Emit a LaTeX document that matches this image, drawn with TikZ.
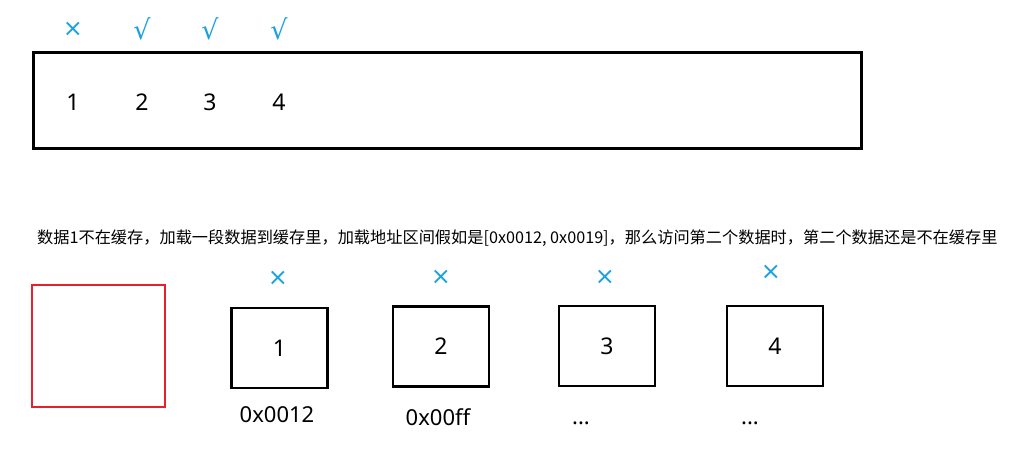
\documentclass[tikz,border=0pt]{standalone}
\usepackage{fontspec}
\setmainfont{Noto Sans}
\newfontfamily\cjk{Noto Sans CJK SC}
\newfontfamily\dejavu{DejaVu Sans}
\definecolor{markblue}{RGB}{27,161,226}
\definecolor{boxred}{RGB}{232,32,42}
\begin{document}
\begin{tikzpicture}[x=1pt,y=-1pt,
  tick/.style={text=markblue,font=\dejavu\fontsize{27}{27}\selectfont,inner sep=0pt},
  cross/.style={text=markblue,font=\dejavu\fontsize{24}{24}\selectfont,inner sep=0pt},
  digit/.style={font=\fontsize{23}{23}\selectfont,inner sep=0pt},
  addr/.style={font=\fontsize{22}{22}\selectfont,inner sep=0pt},
  cell/.style={draw,line width=2.5pt,minimum width=96pt,minimum height=80pt,inner sep=0pt,font=\fontsize{23}{23}\selectfont}]
\useasboundingbox (0,0) rectangle (1017,452);
% top bar
\node[draw,line width=3pt,minimum width=828pt,minimum height=95pt,inner sep=0pt] (bar) at (447,100.5) {};
\node[digit] (t1) at (73,102) {1};
\node[digit] (t2) at (142,102) {2};
\node[digit] (t3) at (210,102) {3};
\node[digit] (t4) at (279,102) {4};
\node[cross] (m1) at (73,29) {×};
\node[tick] (m2) at (142,29) {√};
\node[tick] (m3) at (210,29) {√};
\node[tick] (m4) at (279,29) {√};
% caption
\node[anchor=west,inner sep=0pt,font=\cjk\fontsize{16.2}{16.2}\selectfont] (cap) at (37,238) {数据1不在缓存，加载一段数据到缓存里，加载地址区间假如是[0x0012, 0x0019]，那么访问第二个数据时，第二个数据还是不在缓存里};
% red box
\node[draw=boxred,line width=2pt,minimum width=133pt,minimum height=122pt,inner sep=0pt] (red) at (98,345.5) {};
% cells
\node[cell] (c1) at (279.5,348) {1};
\node[cell] (c2) at (441,346.5) {2};
\node[cell] (c3) at (607,346) {3};
\node[cell] (c4) at (775,346) {4};
\node[cross] (x1) at (278,278) {×};
\node[cross] (x2) at (441,277) {×};
\node[cross] (x3) at (605,277) {×};
\node[cross] (x4) at (771,272) {×};
\node[addr] (a1) at (277,415) {0x0012};
\node[addr] (a2) at (438,417) {0x00ff};
\node[addr,anchor=base] (a3) at (581,424) {...};
\node[addr,anchor=base] (a4) at (750,424) {...};
\end{tikzpicture}
\end{document}
